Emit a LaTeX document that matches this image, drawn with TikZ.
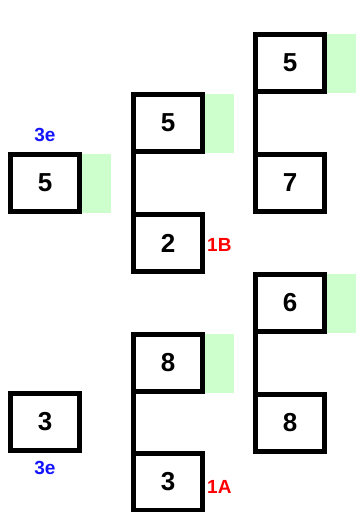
\documentclass[tikz,border=0pt]{standalone}
\usepackage{fontspec}
\setmainfont{Liberation Sans}
\usetikzlibrary{backgrounds}
\definecolor{lgreen}{RGB}{204,255,204}
\definecolor{lblue}{RGB}{20,20,255}
\definecolor{lred}{RGB}{255,0,0}
\begin{document}
\begin{tikzpicture}[x=1pt,y=-1pt,
  cell/.style={draw, line width=5pt, minimum width=69pt, minimum height=57pt,
    inner sep=0pt, outer sep=0pt, fill=white, font=\fontsize{26}{30}\selectfont\bfseries},
  bar/.style={line width=5pt},
  mark3e/.style={text=lblue, font=\fontsize{19}{22}\selectfont\bfseries, inner sep=0pt},
  markred/.style={text=lred, font=\fontsize{19}{22}\selectfont\bfseries, inner sep=0pt},
  shade/.style={fill=lgreen}]
\useasboundingbox (0,0) rectangle (356,512);
% left column
\node[cell] (L1) at (45,183) {5};
\node[cell] (L2) at (45,422) {3};
% middle column
\node[cell] (M1) at (168,123) {5};
\node[cell] (M2) at (168,243) {2};
\node[cell] (M3) at (168,363) {8};
\node[cell] (M4) at (168,482) {3};
% right column
\node[cell] (R1) at (290,63) {5};
\node[cell] (R2) at (290,183) {7};
\node[cell] (R3) at (290,303) {6};
\node[cell] (R4) at (290,423) {8};
% bars linking pairs
\draw[bar] (M1.north west) -- (M2.south west);
\draw[bar] (M3.north west) -- (M4.south west);
\draw[bar] (R1.north west) -- (R2.south west);
\draw[bar] (R3.north west) -- (R4.south west);
% green shades
\begin{scope}[on background layer]
\foreach \b in {L1,M1,M3,R1,R3}
  \fill[shade] ([yshift=1pt]\b.north east) rectangle ([xshift=31pt,yshift=-1pt]\b.south east);
\end{scope}
% labels
\node[mark3e] (t1) at (45,135) {3e};
\node[mark3e] (t2) at (45,468) {3e};
\node[markred, anchor=west] (t3) at (207,245) {1B};
\node[markred, anchor=west] (t4) at (207,487) {1A};
\end{tikzpicture}
\end{document}
